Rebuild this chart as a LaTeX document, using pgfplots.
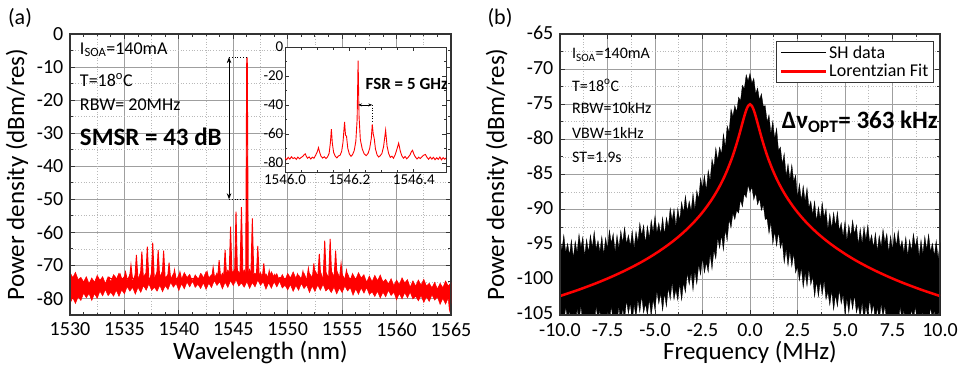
\documentclass[border=0pt]{standalone}
\usepackage{pgfplots}
\pgfplotsset{compat=1.18}
\usepackage{fontspec}
\setmainfont{Carlito}
\usetikzlibrary{arrows.meta}

\pgfplotsset{
 myax/.style={
  scale only axis, anchor=south west,
  axis line style={draw=black!80, line width=1.2pt},
  every tick/.style={black!80, line width=0.9pt},
  major tick length=5pt, minor tick length=3pt,
  tick align=inside,
  major grid style={gray!75, line width=0.9pt},
  minor grid style={gray!55, line width=0.7pt, dotted},
  ticklabel style={font=\fontsize{20}{24}\selectfont, inner sep=1pt},
  xticklabel style={yshift=-6.5pt},
  yticklabel style={xshift=-5.5pt},
  label style={font=\fontsize{25}{30}\selectfont},
  /pgf/number format/assume math mode=true,
  /pgf/number format/1000 sep={},
 }
}

\begin{document}
\begin{tikzpicture}
\path[use as bounding box] (0pt,0pt) rectangle (963pt,372pt);
\node[font=\fontsize{22}{26}\selectfont] at (20pt,354pt) {(a)};
\node[font=\fontsize{22}{26}\selectfont] at (500pt,354pt) {(b)};

% ---------------- Left panel ----------------
\begin{axis}[myax, at={(70pt,57pt)}, width=381pt, height=281pt,
  xmin=1530, xmax=1565, ymin=-85, ymax=0,
  xtick={1530,1535,...,1565}, ytick={-80,-70,...,0},
  minor x tick num=3, minor y tick num=1,
  xmajorgrids=true, xminorgrids=false, ymajorgrids=true, yminorgrids=true,
  extra x ticks={1532.5,1537.5,1542.5,1547.5,1552.5,1557.5,1562.5},
  extra x tick labels={},
  extra x tick style={xmajorgrids=true, major grid style={gray!55, line width=0.7pt, dotted}, major tick length=0pt},
  xlabel={Wavelength (nm)}, ylabel={Power density (dBm/res)},
  xlabel style={at={(axis description cs:0.5,-0.135)}, anchor=center},
  ylabel style={at={(axis description cs:-0.139,0.5)}, anchor=center},
]
% noise floor band
\addplot[fill=red, draw=red, line width=0.5pt] coordinates {
(1530.00,-72.0)(1530.25,-73.7)(1530.50,-72.1)(1530.75,-74.3)(1531.00,-73.6)(1531.25,-75.0)(1531.50,-73.4)(1531.75,-75.5)
(1532.00,-73.8)(1532.25,-75.1)(1532.50,-73.0)(1532.75,-74.5)(1533.00,-73.4)(1533.25,-75.5)(1533.50,-73.4)(1533.75,-74.9)
(1534.00,-72.8)(1534.25,-74.2)(1534.50,-72.35)(1534.75,-74.3)(1535.00,-73.3)(1535.25,-74.5)(1535.50,-72.75)(1535.75,-74.7)
(1536.00,-72.8)(1536.25,-74.05)(1536.50,-71.9)(1536.75,-73.35)(1537.00,-72.2)(1537.25,-74.4)(1537.50,-72.35)(1537.75,-73.9)
(1538.00,-71.9)(1538.25,-73.4)(1538.50,-71.65)(1538.75,-73.7)(1539.00,-72.8)(1539.25,-74.15)(1539.50,-72.5)(1539.75,-74.55)
(1540.00,-72.8)(1540.25,-74.2)(1540.50,-72.15)(1540.75,-73.7)(1541.00,-72.7)(1541.25,-74.9)(1541.50,-72.85)(1541.75,-74.4)
(1542.00,-72.4)(1542.25,-73.8)(1542.50,-71.9)(1542.75,-73.8)(1543.00,-72.8)(1543.25,-74.0)(1543.50,-72.25)(1543.75,-74.2)
(1544.00,-72.3)(1544.25,-73.5)(1544.50,-71.35)(1544.75,-72.8)(1545.00,-71.6)(1545.25,-73.8)(1545.50,-71.75)(1545.75,-73.3)
(1546.00,-71.3)(1546.25,-72.85)(1546.50,-71.1)(1546.75,-73.15)(1547.00,-72.3)(1547.25,-73.7)(1547.50,-72.1)(1547.75,-74.2)
(1548.00,-72.5)(1548.25,-73.9)(1548.50,-71.9)(1548.75,-73.5)(1549.00,-72.5)(1549.25,-74.7)(1549.50,-72.75)(1549.75,-74.4)
(1550.00,-72.4)(1550.25,-73.8)(1550.50,-71.95)(1550.75,-73.9)(1551.00,-72.9)(1551.25,-74.1)(1551.50,-72.35)(1551.75,-74.3)
(1552.00,-72.4)(1552.25,-73.65)(1552.50,-71.5)(1552.75,-72.95)(1553.00,-71.8)(1553.25,-74.0)(1553.50,-72.0)(1553.75,-73.6)
(1554.00,-71.6)(1554.25,-73.2)(1554.50,-71.45)(1554.75,-73.5)(1555.00,-72.7)(1555.25,-74.1)(1555.50,-72.45)(1555.75,-74.5)
(1556.00,-72.8)(1556.25,-74.2)(1556.50,-72.2)(1556.75,-73.8)(1557.00,-72.8)(1557.25,-75.1)(1557.50,-73.2)(1557.75,-74.9)
(1558.00,-73.0)(1558.25,-74.6)(1558.50,-72.9)(1558.75,-75.0)(1559.00,-74.2)(1559.25,-75.6)(1559.50,-74.0)(1559.75,-76.1)
(1560.00,-74.4)(1560.25,-75.8)(1560.50,-73.75)(1560.75,-75.3)(1561.00,-74.3)(1561.25,-76.6)(1561.50,-74.65)(1561.75,-76.3)
(1562.00,-74.4)(1562.25,-75.95)(1562.50,-74.2)(1562.75,-76.25)(1563.00,-75.4)(1563.25,-76.75)(1563.50,-75.1)(1563.75,-77.15)
(1564.00,-75.4)(1564.25,-76.75)(1564.50,-74.7)(1564.75,-76.25)(1565.00,-75.2)
(1565.00,-81.5)(1564.85,-83.8)(1564.75,-79.85)(1564.50,-81.7)(1564.25,-79.95)(1564.00,-81.8)(1563.75,-79.5)(1563.50,-80.5)
(1563.25,-78.9)(1563.00,-80.9)(1562.75,-79.5)(1562.50,-81.2)(1562.25,-79.1)(1562.00,-80.7)(1561.75,-79.3)(1561.50,-80.15)
(1561.25,-78.1)(1561.00,-79.8)(1560.75,-78.2)(1560.50,-80.15)(1560.25,-78.5)(1560.00,-80.4)(1559.75,-78.1)(1559.50,-79.1)
(1559.25,-77.5)(1559.00,-79.5)(1558.75,-78.1)(1558.50,-79.85)(1558.25,-77.8)(1558.00,-79.4)(1557.75,-78.0)(1557.50,-78.8)
(1557.25,-76.7)(1557.00,-78.4)(1556.75,-76.8)(1556.50,-78.75)(1556.25,-77.1)(1556.00,-79.0)(1555.75,-76.7)(1555.50,-77.75)
(1555.25,-76.2)(1555.00,-78.2)(1554.75,-76.85)(1554.50,-78.6)(1554.25,-76.55)(1554.00,-78.2)(1553.75,-76.9)(1553.50,-77.75)
(1553.25,-75.7)(1553.00,-77.5)(1552.75,-75.95)(1552.50,-77.9)(1552.25,-76.25)(1552.00,-78.2)(1551.75,-75.95)(1551.50,-77.0)
(1551.25,-75.45)(1551.00,-77.5)(1550.75,-76.1)(1550.50,-77.85)(1550.25,-75.8)(1550.00,-77.4)(1549.75,-76.0)(1549.50,-76.85)
(1549.25,-74.8)(1549.00,-76.5)(1548.75,-74.95)(1548.50,-76.9)(1548.25,-75.25)(1548.00,-77.2)(1547.75,-74.95)(1547.50,-76.0)
(1547.25,-74.45)(1547.00,-76.5)(1546.75,-75.2)(1546.50,-76.95)(1546.25,-74.9)(1546.00,-76.6)(1545.75,-75.3)(1545.50,-76.25)
(1545.25,-74.3)(1545.00,-76.1)(1544.75,-74.6)(1544.50,-76.65)(1544.25,-75.1)(1544.00,-77.1)(1543.75,-74.9)(1543.50,-76.05)
(1543.25,-74.6)(1543.00,-76.7)(1542.75,-75.4)(1542.50,-77.25)(1542.25,-75.3)(1542.00,-77.0)(1541.75,-75.7)(1541.50,-76.65)
(1541.25,-74.7)(1541.00,-76.5)(1540.75,-75.05)(1540.50,-77.1)(1540.25,-75.55)(1540.00,-77.6)(1539.75,-75.45)(1539.50,-76.6)
(1539.25,-75.15)(1539.00,-77.3)(1538.75,-76.1)(1538.50,-77.95)(1538.25,-76.0)(1538.00,-77.8)(1537.75,-76.6)(1537.50,-77.55)
(1537.25,-75.6)(1537.00,-77.5)(1536.75,-76.1)(1536.50,-78.15)(1536.25,-76.6)(1536.00,-78.7)(1535.75,-76.6)(1535.50,-77.8)
(1535.25,-76.4)(1535.00,-78.6)(1534.75,-77.4)(1534.50,-79.35)(1534.25,-77.5)(1534.00,-79.3)(1533.75,-78.1)(1533.50,-79.15)
(1533.25,-77.3)(1533.00,-79.2)(1532.75,-77.8)(1532.50,-79.95)(1532.25,-78.5)(1532.00,-80.6)(1531.75,-78.5)(1531.50,-79.75)
(1531.25,-78.4)(1531.00,-80.6)(1530.75,-79.5)(1530.50,-81.5)(1530.25,-79.7)(1530.00,-81.6)
} -- cycle;
% comb lines
\addplot[red, fill=red, line width=0.9pt] coordinates {
(1533.46,-74)(1533.6,-73.6)(1533.74,-74)
(1533.96,-74)(1534.1,-73.2)(1534.24,-74)
(1534.46,-74)(1534.6,-72.6)(1534.74,-74)
(1534.96,-74)(1535.1,-72.0)(1535.24,-74)
(1535.46,-74)(1535.6,-69.9)(1535.74,-74)
(1535.96,-74)(1536.1,-66.8)(1536.24,-74)
(1536.46,-74)(1536.6,-65.8)(1536.74,-74)
(1536.96,-74)(1537.1,-64.3)(1537.24,-74)
(1537.46,-74)(1537.6,-63.1)(1537.74,-74)
(1537.96,-74)(1538.1,-65.3)(1538.24,-74)
(1538.46,-74)(1538.6,-65.5)(1538.74,-74)
(1538.96,-74)(1539.1,-69.2)(1539.24,-74)
(1539.46,-74)(1539.6,-71.4)(1539.74,-74)
(1539.96,-74)(1540.1,-72.0)(1540.24,-74)
(1540.46,-74)(1540.6,-73.0)(1540.74,-74)
(1541.46,-74)(1541.6,-73.4)(1541.74,-74)
(1541.96,-74)(1542.1,-72.8)(1542.24,-74)
(1542.46,-74)(1542.6,-72.0)(1542.74,-74)
(1543.01,-74)(1543.15,-70.6)(1543.29,-74)
(1543.56,-74)(1543.7,-68.4)(1543.84,-74)
(1544.11,-74)(1544.25,-65.3)(1544.39,-74)
(1544.61,-74)(1544.75,-58.3)(1544.89,-74)
(1545.11,-74)(1545.25,-53.7)(1545.39,-74)
(1545.61,-74)(1545.75,-52.4)(1545.89,-74)
(1546.14,-74)(1546.23,-9)(1546.26,-7)(1546.29,-9)(1546.38,-74)
(1546.61,-74)(1546.75,-55.8)(1546.89,-74)
(1547.11,-74)(1547.25,-64.1)(1547.39,-74)
(1547.66,-74)(1547.8,-69.4)(1547.94,-74)
(1548.16,-74)(1548.3,-71.6)(1548.44,-74)
(1548.66,-74)(1548.8,-72.8)(1548.94,-74)
(1549.16,-74)(1549.3,-73.6)(1549.44,-74)
(1550.26,-74)(1550.4,-73.5)(1550.54,-74)
(1550.76,-74)(1550.9,-72.6)(1551.04,-74)
(1551.26,-74)(1551.4,-71.8)(1551.54,-74)
(1551.76,-74)(1551.9,-70.9)(1552.04,-74)
(1552.26,-74)(1552.4,-69.4)(1552.54,-74)
(1552.76,-74)(1552.9,-66.5)(1553.04,-74)
(1553.26,-74)(1553.4,-62.5)(1553.54,-74)
(1553.76,-74)(1553.9,-62.0)(1554.04,-74)
(1554.26,-74)(1554.4,-65.5)(1554.54,-74)
(1554.76,-74)(1554.9,-69.5)(1555.04,-74)
(1555.26,-74)(1555.4,-71.5)(1555.54,-74)
(1555.81,-74)(1555.95,-72.6)(1556.09,-74)
(1556.36,-74)(1556.5,-73.4)(1556.64,-74)
(1556.86,-74.5)(1557.0,-74.0)(1557.14,-74.5)
} -- cycle;
% SMSR arrow
\draw[black, line width=0.8pt, {Stealth[length=6pt]}-{Stealth[length=6pt]}] (axis cs:1544.61,-7) -- (axis cs:1544.61,-50);
\draw[black, dotted, line width=0.8pt] (axis cs:1544.61,-7) -- (axis cs:1546.26,-7);
\draw[black, dotted, line width=0.8pt] (axis cs:1544.61,-50) -- (axis cs:1546.26,-50);
\node[anchor=west, font=\fontsize{18}{20}\selectfont, inner sep=0pt] at (axis cs:1530.9,-4.8) {I\textsubscript{SOA}=140mA};
\node[anchor=west, font=\fontsize{18}{20}\selectfont, inner sep=0pt] at (axis cs:1530.9,-13.9) {T=18\textsuperscript{o}C};
\node[anchor=west, font=\fontsize{18}{20}\selectfont, inner sep=0pt] at (axis cs:1530.9,-21.5) {RBW= 20MHz};
\node[anchor=west, font=\bfseries\fontsize{25}{28}\selectfont, inner sep=0pt] at (axis cs:1530.9,-31.2) {SMSR = 43 dB};
\draw[black!80, line width=1.2pt] (rel axis cs:0,0) rectangle (rel axis cs:1,1);
\end{axis}

% ---------------- Inset ----------------
\begin{axis}[scale only axis, anchor=south west, at={(285pt,199pt)}, width=161pt, height=126pt,
  xmin=1546, xmax=1546.5, ymin=-87, ymax=0,
  axis background/.style={fill=white},
  axis line style={draw=black!80, line width=1pt},
  every tick/.style={black!80, line width=0.7pt},
  major tick length=4pt, minor tick length=2.5pt, tick align=inside,
  xtick={1546,1546.2,1546.4}, ytick={-80,-60,...,0},
  minor x tick num=3, minor y tick num=1,
  ticklabel style={font=\fontsize{15}{17}\selectfont},
  xticklabel style={inner sep=1.5pt, /pgf/number format/.cd, fixed, fixed zerofill, precision=1},
  yticklabel style={inner sep=1.5pt},
  /pgf/number format/assume math mode=true,
  /pgf/number format/1000 sep={},
]
\addplot[red, line width=0.9pt] coordinates {
(1546.000,-76.5)(1546.005,-77.8)(1546.010,-76.2)(1546.015,-77.4)(1546.020,-75.8)(1546.025,-77.0)(1546.030,-76.4)
(1546.035,-77.6)(1546.040,-76.0)(1546.045,-77.2)(1546.050,-76.3)(1546.055,-75.6)(1546.060,-74.2)(1546.063,-73.8)
(1546.066,-75.4)(1546.070,-76.8)(1546.075,-75.9)(1546.080,-77.3)(1546.085,-76.1)(1546.090,-76.8)(1546.095,-74.8)
(1546.100,-72.5)(1546.104,-69.5)(1546.108,-73.0)(1546.112,-75.5)(1546.117,-76.7)(1546.122,-75.8)(1546.127,-77.0)
(1546.132,-75.9)(1546.137,-73.5)(1546.141,-66.0)(1546.144,-56.8)(1546.147,-66.5)(1546.151,-72.8)(1546.156,-75.4)
(1546.161,-76.6)(1546.166,-75.2)(1546.171,-74.8)(1546.176,-72.0)(1546.180,-66.0)(1546.185,-51.8)(1546.188,-61.0)
(1546.191,-61.5)(1546.195,-70.0)(1546.200,-74.0)(1546.205,-75.5)(1546.210,-74.2)(1546.215,-71.5)(1546.220,-65.0)
(1546.224,-50.0)(1546.227,-9.4)(1546.230,-48.0)(1546.234,-64.0)(1546.240,-70.5)(1546.246,-73.8)(1546.252,-75.0)
(1546.258,-73.5)(1546.263,-70.0)(1546.268,-63.0)(1546.271,-53.4)(1546.274,-60.0)(1546.277,-63.0)(1546.281,-70.5)
(1546.286,-74.5)(1546.291,-76.0)(1546.296,-75.0)(1546.301,-73.5)(1546.306,-69.0)(1546.3125,-57.5)(1546.317,-68.5)
(1546.322,-73.6)(1546.327,-76.2)(1546.332,-75.4)(1546.337,-76.8)(1546.342,-74.5)(1546.347,-71.0)(1546.353,-66.4)
(1546.358,-71.8)(1546.363,-75.2)(1546.368,-76.8)(1546.373,-75.6)(1546.378,-77.2)(1546.383,-76.0)(1546.388,-74.6)
(1546.392,-72.5)(1546.396,-71.3)(1546.400,-73.8)(1546.405,-76.0)(1546.410,-77.3)(1546.415,-76.1)(1546.420,-77.0)
(1546.425,-75.9)(1546.430,-74.8)(1546.436,-74.2)(1546.441,-76.2)(1546.446,-77.5)(1546.451,-76.0)(1546.456,-77.4)
(1546.461,-76.2)(1546.466,-77.8)(1546.471,-76.5)(1546.476,-77.6)(1546.481,-76.0)(1546.486,-77.9)(1546.491,-76.4)
(1546.496,-77.5)(1546.500,-76.6)
};
\draw[black, line width=0.7pt, {Stealth[length=4pt]}-{Stealth[length=4pt]}] (axis cs:1546.227,-40) -- (axis cs:1546.271,-40);
\draw[black, dotted, line width=0.7pt] (axis cs:1546.271,-40) -- (axis cs:1546.271,-53);
\node[anchor=west, font=\bfseries\fontsize{17}{20}\selectfont, inner sep=0pt] at (axis cs:1546.25,-25.6) {FSR = 5 GHz};
\end{axis}

% ---------------- Right panel ----------------
\begin{axis}[myax, at={(560pt,57pt)}, width=380pt, height=281pt,
  xmin=-10, xmax=10, ymin=-105, ymax=-65,
  xtick={-10,-7.5,...,10}, ytick={-105,-100,...,-65},
  minor x tick num=1, minor y tick num=1, grid=both,
  xticklabel style={yshift=-1pt, /pgf/number format/.cd, fixed, fixed zerofill, precision=1},
  yticklabel style={yshift=1.5pt},
  xlabel={Frequency (MHz)}, ylabel={Power density (dBm/res)},
  xlabel style={at={(axis description cs:0.5,-0.132)}, anchor=center},
  ylabel style={at={(axis description cs:-0.166,0.5)}, anchor=center},
  legend style={at={(0.984,0.975)}, anchor=north east, draw=black!80, line width=1pt, fill=white,
    font=\fontsize{18}{21}\selectfont, inner xsep=3pt, inner ysep=2pt, row sep=1pt},
  legend cell align=left,
  legend image code/.code={\draw[#1] (0pt,0pt) -- (45pt,0pt);},
]
\addlegendimage{black, line width=0.8pt}
\addlegendentry{SH data}
\addlegendimage{red, line width=2.5pt}
\addlegendentry{Lorentzian Fit}
\addplot[fill=black, draw=black, line width=0.3pt, forget plot] coordinates {
(-10.0,-94.0)(-9.9,-95.8)(-9.8,-93.6)(-9.7,-96.1)(-9.6,-94.8)(-9.5,-96.5)(-9.4,-94.3)(-9.3,-96.9)(-9.2,-94.5)(-9.1,-96.1)
(-9.0,-93.5)(-8.9,-95.4)(-8.8,-93.9)(-8.7,-96.6)(-8.6,-94.2)(-8.5,-96.1)(-8.4,-93.6)(-8.3,-95.4)(-8.2,-93.1)(-8.1,-95.6)
(-8.0,-94.4)(-7.9,-96.0)(-7.8,-93.8)(-7.7,-96.4)(-7.6,-94.0)(-7.5,-95.6)(-7.4,-92.9)(-7.3,-94.8)(-7.2,-93.4)(-7.1,-96.0)
(-7.0,-93.6)(-6.9,-95.5)(-6.8,-93.0)(-6.7,-94.7)(-6.6,-92.5)(-6.5,-94.9)(-6.4,-93.6)(-6.3,-95.2)(-6.2,-93.0)(-6.1,-95.5)
(-6.0,-93.1)(-5.9,-94.6)(-5.8,-91.9)(-5.7,-93.7)(-5.6,-92.2)(-5.5,-94.8)(-5.4,-92.3)(-5.3,-94.1)(-5.2,-91.5)(-5.1,-93.2)
(-5.0,-90.9)(-4.9,-93.3)(-4.8,-91.9)(-4.7,-93.5)(-4.6,-91.1)(-4.5,-93.6)(-4.4,-91.1)(-4.3,-92.5)(-4.2,-89.8)(-4.1,-91.5)
(-4.0,-89.9)(-3.9,-92.4)(-3.8,-89.8)(-3.7,-91.6)(-3.6,-88.9)(-3.5,-90.45)(-3.4,-88.0)(-3.3,-90.25)(-3.2,-88.8)(-3.1,-90.2)
(-3.0,-87.7)(-2.9,-90.0)(-2.8,-87.3)(-2.7,-88.5)(-2.6,-85.5)(-2.5,-87.0)(-2.4,-85.1)(-2.3,-87.3)(-2.2,-84.4)(-2.1,-85.9)
(-2.0,-82.8)(-1.9,-84.0)(-1.8,-81.2)(-1.7,-83.0)(-1.6,-81.1)(-1.5,-82.1)(-1.4,-79.2)(-1.3,-81.1)(-1.2,-78.1)(-1.1,-79.0)
(-1.0,-75.7)(-0.9,-76.74)(-0.8,-75.2)(-0.7,-76.1)(-0.6,-74.0)(-0.5,-74.5)(-0.4,-72.3)(-0.3,-72.8)(-0.2,-70.8)(-0.1,-71.7)
(0.0,-70.6)(0.1,-72.0)(0.2,-71.3)(0.3,-73.5)(0.4,-72.7)(0.5,-74.4)(0.6,-73.5)(0.7,-75.3)(0.8,-75.2)(0.9,-77.5)
(1.0,-76.5)(1.1,-79.2)(1.2,-77.4)(1.3,-79.9)(1.4,-78.4)(1.5,-81.6)(1.6,-81.1)(1.7,-83.5)(1.8,-82.0)(1.9,-85.2)
(2.0,-83.5)(2.1,-85.7)(2.2,-83.6)(2.3,-86.0)(2.4,-85.1)(2.5,-88.3)(2.6,-86.3)(2.7,-88.7)(2.8,-86.6)(2.9,-88.8)
(3.0,-86.9)(3.1,-89.7)(3.2,-88.8)(3.3,-90.75)(3.4,-88.8)(3.5,-91.65)(3.6,-89.6)(3.7,-91.4)(3.8,-89.0)(3.9,-91.1)
(4.0,-89.9)(4.1,-92.8)(4.2,-90.6)(4.3,-92.7)(4.4,-90.4)(4.5,-92.4)(4.6,-90.3)(4.7,-93.0)(4.8,-91.9)(4.9,-93.8)
(5.0,-91.7)(5.1,-94.4)(5.2,-92.2)(5.3,-93.9)(5.4,-91.5)(5.5,-93.5)(5.6,-92.2)(5.7,-95.0)(5.8,-92.7)(5.9,-94.8)
(6.0,-92.4)(6.1,-94.3)(6.2,-92.2)(6.3,-94.7)(6.4,-93.6)(6.5,-95.4)(6.6,-93.3)(6.7,-95.9)(6.8,-93.7)(6.9,-95.3)
(7.0,-92.8)(7.1,-94.7)(7.2,-93.4)(7.3,-96.1)(7.4,-93.7)(7.5,-95.8)(7.6,-93.3)(7.7,-95.2)(7.8,-93.0)(7.9,-95.5)
(8.0,-94.4)(8.1,-96.1)(8.2,-93.9)(8.3,-96.6)(8.4,-94.3)(8.5,-95.9)(8.6,-93.4)(8.7,-95.3)(8.8,-93.9)(8.9,-96.7)
(9.0,-94.3)(9.1,-96.3)(9.2,-93.8)(9.3,-95.7)(9.4,-93.5)(9.5,-96.0)(9.6,-94.8)(9.7,-96.6)(9.8,-94.4)(9.9,-97.0)(10.0,-94.7)
(10.0,-106.6)(9.9,-104.6)(9.8,-107.0)(9.7,-104.3)(9.6,-105.7)(9.5,-103.8)(9.4,-106.4)(9.3,-104.8)(9.2,-107.1)(9.1,-104.5)
(9.0,-106.7)(8.9,-105.0)(8.8,-106.2)(8.7,-103.7)(8.6,-105.9)(8.5,-104.1)(8.4,-106.6)(8.3,-104.6)(8.2,-107.0)(8.1,-104.3)
(8.0,-105.7)(7.9,-103.8)(7.8,-106.4)(7.7,-104.8)(7.6,-107.1)(7.5,-104.5)(7.4,-106.7)(7.3,-105.0)(7.2,-106.2)(7.1,-103.7)
(7.0,-105.3)(6.9,-103.4)(6.8,-105.9)(6.7,-103.8)(6.6,-106.2)(6.5,-103.4)(6.4,-104.8)(6.3,-102.8)(6.2,-105.3)(6.1,-103.7)
(6.0,-105.9)(5.9,-103.2)(5.8,-105.4)(5.7,-103.6)(5.6,-104.7)(5.5,-102.1)(5.4,-104.2)(5.3,-102.3)(5.2,-104.7)(5.1,-102.6)
(5.0,-104.9)(4.9,-102.1)(4.8,-103.4)(4.7,-101.4)(4.6,-103.8)(4.5,-102.1)(4.4,-104.3)(4.3,-101.5)(4.2,-103.6)(4.1,-101.7)
(4.0,-102.8)(3.9,-100.1)(3.8,-102.1)(3.7,-100.1)(3.6,-102.4)(3.5,-100.2)(3.4,-102.4)(3.3,-99.5)(3.2,-100.7)(3.1,-98.5)
(3.0,-100.9)(2.9,-99.0)(2.8,-101.1)(2.7,-98.2)(2.6,-100.1)(2.5,-98.1)(2.4,-99.0)(2.3,-96.2)(2.2,-98.1)(2.1,-95.9)
(2.0,-98.0)(1.9,-95.6)(1.8,-97.6)(1.7,-94.5)(1.6,-95.5)(1.5,-93.1)(1.4,-95.2)(1.3,-93.1)(1.2,-94.9)(1.1,-91.8)
(1.0,-93.4)(0.9,-91.3)(0.8,-91.4)(0.7,-89.3)(0.6,-90.1)(0.5,-88.4)(0.4,-89.3)(0.3,-87.6)(0.2,-88.6)(0.1,-86.8)
(0.0,-87.5)(-0.1,-86.5)(-0.2,-88.3)(-0.3,-87.7)(-0.4,-89.6)(-0.5,-88.6)(-0.6,-90.5)(-0.7,-90.1)(-0.8,-91.4)(-0.9,-90.5)
(-1.0,-92.6)(-1.1,-91.4)(-1.2,-94.4)(-1.3,-92.9)(-1.4,-95.8)(-1.5,-93.6)(-1.6,-95.5)(-1.7,-94.0)(-1.8,-97.0)(-1.9,-95.8)
(-2.0,-98.5)(-2.1,-96.3)(-2.2,-98.9)(-2.3,-97.5)(-2.4,-99.0)(-2.5,-96.8)(-2.6,-99.3)(-2.7,-97.8)(-2.8,-100.6)(-2.9,-98.8)
(-3.0,-101.5)(-3.1,-99.0)(-3.2,-100.7)(-3.3,-99.0)(-3.4,-101.8)(-3.5,-100.4)(-3.6,-102.9)(-3.7,-100.5)(-3.8,-102.9)(-3.9,-101.4)
(-4.0,-102.8)(-4.1,-100.4)(-4.2,-102.8)(-4.3,-101.1)(-4.4,-103.8)(-4.5,-101.9)(-4.6,-104.4)(-4.7,-101.9)(-4.8,-103.4)(-4.9,-101.6)
(-5.0,-104.3)(-5.1,-102.8)(-5.2,-105.2)(-5.3,-102.7)(-5.4,-105.0)(-5.5,-103.4)(-5.6,-104.7)(-5.7,-102.3)(-5.8,-104.6)(-5.9,-102.8)
(-6.0,-105.4)(-6.1,-103.5)(-6.2,-105.9)(-6.3,-103.3)(-6.4,-104.8)(-6.5,-102.9)(-6.6,-105.6)(-6.7,-104.0)(-6.8,-106.4)(-6.9,-103.8)
(-7.0,-106.1)(-7.1,-105.0)(-7.2,-106.2)(-7.3,-103.7)(-7.4,-105.9)(-7.5,-104.1)(-7.6,-106.6)(-7.7,-104.6)(-7.8,-107.0)(-7.9,-104.3)
(-8.0,-105.7)(-8.1,-103.8)(-8.2,-106.4)(-8.3,-104.8)(-8.4,-107.1)(-8.5,-104.5)(-8.6,-106.7)(-8.7,-105.0)(-8.8,-106.2)(-8.9,-103.7)
(-9.0,-105.9)(-9.1,-104.1)(-9.2,-106.6)(-9.3,-104.6)(-9.4,-107.0)(-9.5,-104.3)(-9.6,-105.7)(-9.7,-103.8)(-9.8,-106.4)(-9.9,-104.8)(-10.0,-107.1)
} -- cycle;
\addplot[red, line width=2.5pt, smooth, forget plot] coordinates {
(-10,-102.30)(-9.5,-101.85)(-9,-101.39)(-8.5,-100.89)(-8,-100.37)(-7.5,-99.81)(-7,-99.21)(-6.5,-98.57)(-6,-97.88)
(-5.5,-97.13)(-5,-96.30)(-4.5,-95.39)(-4,-94.38)(-3.5,-93.24)(-3,-91.92)(-2.75,-91.18)(-2.5,-90.38)(-2.25,-89.49)
(-2,-88.51)(-1.8,-87.64)(-1.6,-86.68)(-1.4,-85.61)(-1.2,-84.40)(-1,-83.03)(-0.9,-82.28)(-0.8,-81.46)(-0.7,-80.59)
(-0.6,-79.67)(-0.5,-78.69)(-0.4,-77.69)(-0.3,-76.71)(-0.2,-75.84)(-0.1,-75.23)(0,-75.00)
(0.1,-75.23)(0.2,-75.84)(0.3,-76.71)(0.4,-77.69)(0.5,-78.69)(0.6,-79.67)(0.7,-80.59)(0.8,-81.46)(0.9,-82.28)
(1,-83.03)(1.2,-84.40)(1.4,-85.61)(1.6,-86.68)(1.8,-87.64)(2,-88.51)(2.25,-89.49)(2.5,-90.38)(2.75,-91.18)
(3,-91.92)(3.5,-93.24)(4,-94.38)(4.5,-95.39)(5,-96.30)(5.5,-97.13)(6,-97.88)(6.5,-98.57)(7,-99.21)(7.5,-99.81)
(8,-100.37)(8.5,-100.89)(9,-101.39)(9.5,-101.85)(10,-102.30)
};
\node[anchor=west, font=\fontsize{16}{18}\selectfont, inner sep=0pt] at (axis cs:-9.37,-68.0) {I\textsubscript{SOA}=140mA};
\node[anchor=west, font=\fontsize{16}{18}\selectfont, inner sep=0pt] at (axis cs:-9.37,-72.3) {T=18\textsuperscript{o}C};
\node[anchor=west, font=\fontsize{16}{18}\selectfont, inner sep=0pt] at (axis cs:-9.37,-75.5) {RBW=10kHz};
\node[anchor=west, font=\fontsize{16}{18}\selectfont, inner sep=0pt] at (axis cs:-9.37,-79.1) {VBW=1kHz};
\node[anchor=west, font=\fontsize{16}{18}\selectfont, inner sep=0pt] at (axis cs:-9.37,-82.5) {ST=1.9s};
\node[anchor=west, font=\bfseries\fontsize{25}{28}\selectfont, inner sep=0pt] at (axis cs:1.67,-77.5) {Δν\textsubscript{OPT}= 363 kHz};
\draw[black!80, line width=1.2pt] (rel axis cs:0,0) rectangle (rel axis cs:1,1);
\end{axis}
\end{tikzpicture}
\end{document}
